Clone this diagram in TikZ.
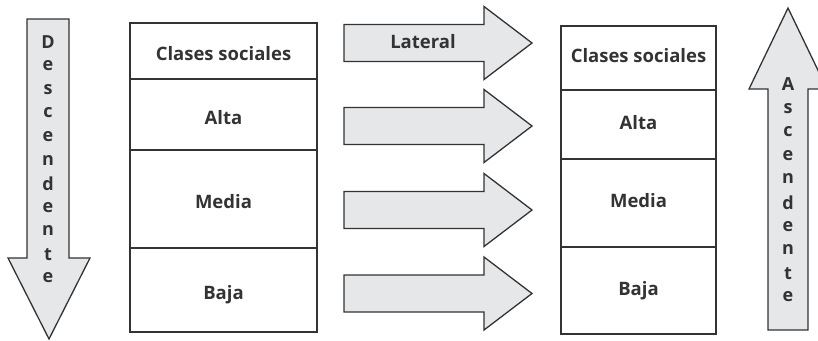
\documentclass[tikz,border=0pt]{standalone}
\usepackage{fontspec}
\setmainfont{Open Sans}
\usetikzlibrary{shapes}
\usetikzlibrary{arrows}
\definecolor{linegray}{HTML}{333333}
\definecolor{fillgray}{HTML}{E6E7E8}
\begin{document}
\begin{tikzpicture}[x=1pt,y=-1pt]
	\tikzstyle{cell}=[rectangle,draw=linegray,line width=1.3pt,inner sep=0pt,text=linegray,font=\fontsize{18.5}{20}\selectfont\bfseries]
	\tikzstyle{lcell}=[cell,minimum width=187pt,text height=19pt,text depth=0pt]
	\tikzstyle{rcell}=[cell,minimum width=155pt,text height=9pt,text depth=0pt]
	\tikzstyle{bigarrow}=[draw=linegray,fill=fillgray,line width=1.3pt,line join=miter]
	\tikzstyle{letter}=[inner sep=0pt,text=linegray,font=\fontsize{18}{20}\selectfont\bfseries]
	\useasboundingbox (0,0) rectangle (818,340);

	\node[lcell,minimum height=56pt] (lhead) at (223.5,51) {Clases sociales};
	\node[lcell,minimum height=71pt] (lalta) at (223.5,114.5) {Alta};
	\node[lcell,minimum height=98pt] (lmedia) at (223.5,199) {Media};
	\node[lcell,minimum height=84pt] (lbaja) at (223.5,290) {Baja};

	\node[rcell,minimum height=64pt] (rhead) at (638.5,58) {Clases sociales};
	\node[rcell,minimum height=69pt] (ralta) at (638.5,124.5) {Alta};
	\node[rcell,minimum height=88pt] (rmedia) at (638.5,203) {Media};
	\node[rcell,minimum height=87pt] (rbaja) at (638.5,290.5) {Baja};

	\foreach \y in {43,126,210,293.5}
		\draw[bigarrow] (344,{\y-18.5}) -- (484,{\y-18.5}) -- (484,{\y-36.5}) -- (532,\y)
			-- (484,{\y+36.5}) -- (484,{\y+18.5}) -- (344,{\y+18.5}) -- cycle;
	\node[cell,draw=none] (lateral) at (423,42) {Lateral};

	\draw[bigarrow] (27,19) -- (69,19) -- (69,258) -- (90,258) -- (49,339) -- (8,258) -- (27,258) -- cycle;
	\draw[bigarrow] (768,330) -- (808,330) -- (808,89) -- (827,89) -- (788,8) -- (749,89) -- (768,89) -- cycle;

	\foreach \l [count=\i] in {D,e,s,c,e,n,d,e,n,t,e}
		\node[letter] (desc\i) at (48,{42+23.6*(\i-1)}) {\l};
	\foreach \l [count=\i] in {A,s,c,e,n,d,e,n,t,e}
		\node[letter] (asc\i) at (788,{84.5+23.6*(\i-1)}) {\l};
\end{tikzpicture}
\end{document}
